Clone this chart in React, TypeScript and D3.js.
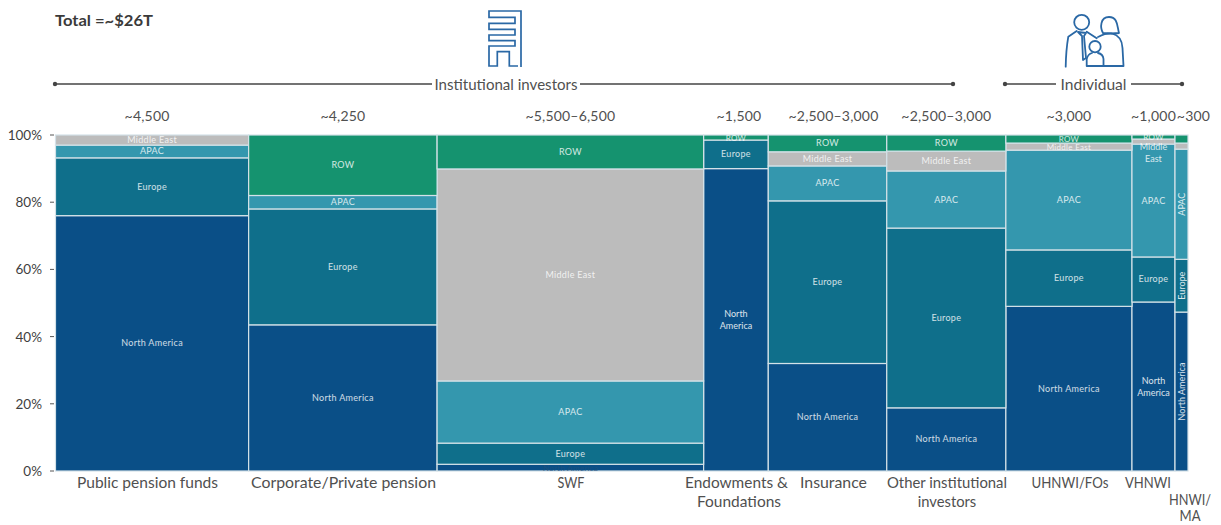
import React from "react";
import * as d3 from "d3";

const categories = [
  "Public pension funds",
  "Corporate/Private pension",
  "SWF",
  "Endowments & Foundations",
  "Insurance",
  "Other institutional investors",
  "UHNWI/FOs",
  "VHNWI",
  "HNWI/ MA",
];
const sizeLabels = ["~4,500", "~4,250", "~5,500–6,500", "~1,500", "~2,500–3,000", "~2,500–3,000", "~3,000", "~1,000", "~300"];
const sizes = [4458, 4350, 6152, 1492, 2735, 2749, 2911, 993, 300];

const regions = ["North America", "Europe", "APAC", "Middle East", "ROW"];
const northAmerica = [76, 43.5, 2, 90, 32, 18.8, 49, 50.3, 47.3];
const europe = [17.2, 34.5, 6.3, 8.5, 48.4, 53.5, 16.8, 13.4, 15.7];
const apac = [3.8, 4, 18.5, 0, 10.4, 17, 29.7, 33.6, 32.8];
const middleEast = [3, 0, 63.1, 0, 4.2, 5.9, 2.1, 1.5, 1.8];
const row = [0, 18, 10.1, 1.5, 5, 4.8, 2.4, 1.2, 2.4];
const regionColors = ["#0a4f87", "#0f6f8b", "#3497ae", "#bcbcbc", "#15936f"];
const yTicks = [0, 20, 40, 60, 80, 100];

const FONT = "Lato, 'Open Sans', sans-serif";
const TEXT = "#505050";

const x = d3.scaleLinear().domain([0, d3.sum(sizes)]).range([55.5, 1188]);
const y = d3.scaleLinear().domain([0, 100]).range([471, 135]);
const edges = d3.cumsum(sizes);
const starts = sizes.map((_, i) => (i === 0 ? 0 : edges[i - 1]));

const rows = categories.map((_, i) => ({
  i,
  "North America": northAmerica[i],
  Europe: europe[i],
  APAC: apac[i],
  "Middle East": middleEast[i],
  ROW: row[i],
}));
const stacked = d3.stack<any>().keys(regions)(rows);

function Bracket({ x1, x2, gap1, gap2, label, w }: { x1: number; x2: number; gap1: number; gap2: number; label: string; w: number }) {
  return (
    <g>
      <line x1={x1} x2={gap1} y1={84} y2={84} stroke="#444" strokeWidth={1.7} />
      <line x1={gap2} x2={x2} y1={84} y2={84} stroke="#444" strokeWidth={1.7} />
      <circle cx={x1} cy={84} r={2.2} fill="#444" />
      <circle cx={x2} cy={84} r={2.2} fill="#444" />
      <text
        x={(gap1 + gap2) / 2}
        y={90}
        textAnchor="middle"
        fontSize={15}
        textLength={w}
        lengthAdjust="spacingAndGlyphs"
        fill={TEXT}
      >
        {label}
      </text>
    </g>
  );
}

function SegmentLabel({ col, region, y0, y1 }: { col: number; region: string; y0: number; y1: number }) {
  const cx = x(starts[col] + sizes[col] / 2);
  const cy = (y(y0) + y(y1)) / 2;
  const h = y(y0) - y(y1);
  const fill = col === 2 && region === "North America" ? "#1d4f7c" : "#fff";
  const fontSize = h < 10 ? 8 : 9;
  if (col === 8) {
    return h > 30 ? (
      <text transform={`translate(${cx + 3},${cy}) rotate(-90)`} textAnchor="middle" fontSize={9} fill={fill} opacity={0.85}>
        {region}
      </text>
    ) : null;
  }
  if (col === 7 && region === "Middle East") {
    return (
      <text textAnchor="middle" fontSize={9} fill="#fff" opacity={0.8}>
        <tspan x={cx} y={150}>Middle</tspan>
        <tspan x={cx} y={162}>East</tspan>
      </text>
    );
  }
  if (col === 3 && region === "North America") {
    return (
      <text textAnchor="middle" fontSize={9} fill="#fff" opacity={0.85}>
        <tspan x={cx} y={317}>North</tspan>
        <tspan x={cx} y={329}>America</tspan>
      </text>
    );
  }
  if (col === 7 && region === "North America") {
    return (
      <text textAnchor="middle" fontSize={9} fill="#fff" opacity={0.85}>
        <tspan x={cx} y={384}>North</tspan>
        <tspan x={cx} y={396}>America</tspan>
      </text>
    );
  }
  return (
    <text x={cx} y={cy + 3} textAnchor="middle" fontSize={fontSize} letterSpacing={0.3} fill={fill} opacity={0.8}>
      {region}
    </text>
  );
}

// wrapped x-axis lines: text, centre and measured width of each line
const categoryLines = [
  { text: "Public pension funds", cx: 147.5, w: 141, base: 488 },
  { text: "Corporate/Private pension", cx: 343.5, w: 185, base: 488 },
  { text: "SWF", cx: 571, w: 27, base: 488 },
  { text: "Endowments &", cx: 736.5, w: 103, base: 488 },
  { text: "Foundations", cx: 739, w: 84, base: 507 },
  { text: "Insurance", cx: 833.5, w: 67, base: 488 },
  { text: "Other institutional", cx: 947, w: 120, base: 488 },
  { text: "investors", cx: 947, w: 58.5, base: 507 },
  { text: "UHNWI/FOs", cx: 1070, w: 77, base: 488 },
  { text: "VHNWI", cx: 1148, w: 46, base: 488 },
  { text: "HNWI/", cx: 1190, w: 42, base: 505 },
  { text: "MA", cx: 1190, w: 21, base: 521 },
];
const sizeLabelShift = [-5, 0, 0, 3, 6, 0, 0, 0, 12];

export default function App() {
  return (
    <svg
      width={1221}
      height={525}
      style={{ position: "absolute", left: 0, top: 0, background: "#fff" }}
      fontFamily={FONT}
    >
      <text x={55} y={26} fontSize={16} fontWeight={700} textLength={98} lengthAdjust="spacingAndGlyphs" fill="#3a3a3a">
        Total =~$26T
      </text>

      {/* building icon */}
      <path
        d="M521 67V11H489V17.3H515V23.3H489V29.3H515V35H489V40.7H515V46H489V66H497.3V51.7H509.3V66H518"
        fill="none"
        stroke="#2a68a5"
        strokeWidth={1.7}
      />
      {/* family icon */}
      <g fill="none" stroke="#2a68a5" strokeWidth={1.8} strokeLinecap="round" strokeLinejoin="round">
        <circle cx={1081.7} cy={22.3} r={7.5} />
        <path d="M1076.7 31 L1068.3 36.7 Q1066 50 1065.7 66.7 M1086.7 31.7 L1096.7 38.3" />
        <path d="M1078 32 L1086 33 L1084 36 L1086 58 L1083 60 L1082 36 Z" />
        <path d="M1103 33 C1100 28 1100 17 1109 17 C1118 17 1117 26 1119 33 Q1112 34 1103 33" />
        <path d="M1098 37 Q1106 33 1112 33.5 Q1122 36 1122.5 48 L1123.5 66 H1102" />
        <circle cx={1095} cy={46.7} r={5.7} />
        <path d="M1086.7 66 V59 Q1088 54 1092 53 M1098 53 Q1103 54 1103.5 59 V66 H1086.7" />
      </g>

      <Bracket x1={55} x2={953} gap1={432} gap2={580} label="Institutional investors" w={143} />
      <Bracket x1={1005} x2={1182} gap1={1056} gap2={1131} label="Individual" w={66} />

      {sizeLabels.map((d, i) => (
        <text
          key={i}
          x={x(starts[i] + sizes[i] / 2) + sizeLabelShift[i]}
          y={121}
          textAnchor="middle"
          fontSize={14}
          letterSpacing={0.2}
          fill={TEXT}
        >
          {d}
        </text>
      ))}

      {stacked.map((layer, r) =>
        layer.map((seg, c) =>
          seg[1] - seg[0] > 0 ? (
            <rect
              key={`${r}-${c}`}
              x={x(starts[c])}
              y={y(seg[1])}
              width={x(edges[c]) - x(starts[c])}
              height={y(seg[0]) - y(seg[1])}
              fill={regionColors[r]}
              stroke="#d4e2e8"
              strokeWidth={1.2}
            />
          ) : null
        )
      )}
      {stacked.map((layer, r) =>
        layer.map((seg, c) =>
          seg[1] - seg[0] > 0 ? (
            <SegmentLabel key={`${r}-${c}`} col={c} region={regions[r]} y0={seg[0]} y1={seg[1]} />
          ) : null
        )
      )}

      {yTicks.map((t) => (
        <g key={t}>
          <text x={42} y={y(t) + 5} textAnchor="end" fontSize={13.5} fill="#3f3f3f">{t}%</text>
          <line x1={50} x2={54} y1={y(t)} y2={y(t)} stroke="#555" strokeWidth={1} />
        </g>
      ))}

      {categoryLines.map((d) => (
        <text
          key={d.text}
          x={d.cx}
          y={d.base}
          textAnchor="middle"
          fontSize={15}
          textLength={d.w}
          lengthAdjust="spacingAndGlyphs"
          fill={TEXT}
        >
          {d.text}
        </text>
      ))}
    </svg>
  );
}
